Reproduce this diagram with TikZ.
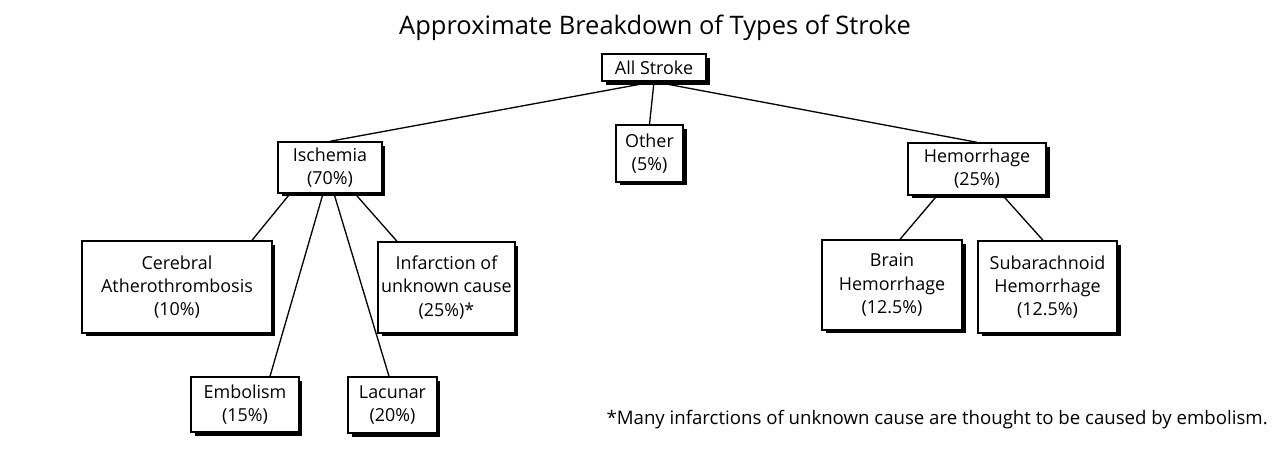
\documentclass[tikz,border=0pt]{standalone}
\usepackage{fontspec}
\setmainfont{Open Sans}
\usetikzlibrary{shadows, positioning}

\begin{document}
\begin{tikzpicture}[x=0.02cm, y=-0.02cm,
    box/.style={draw, line width=0.8pt, fill=white, inner sep=0pt, align=center,
      font=\fontsize{10.2}{13.2}\selectfont,
      drop shadow={shadow xshift=0.07cm, shadow yshift=-0.07cm, fill=black, opacity=1}},
    con/.style={line width=0.75pt},
    note/.style={inner sep=0pt, font=\fontsize{10.6}{12}\selectfont}
  ]
    \useasboundingbox (0,0) rectangle (1280,450);
    \node[inner sep=0pt, font=\fontsize{14.5}{16}\selectfont] (title) at (655,28) {Approximate Breakdown of Types of Stroke};
    \node[box, minimum width=2.08cm, minimum height=0.54cm] (all) at (654,67.5) {All Stroke};
    \node[box, minimum width=2.08cm, minimum height=1.02cm] (isch) at (330,167.5) {Ischemia\\ (70\%)};
    \node[box, minimum width=1.34cm, minimum height=1.14cm] (oth) at (649.5,153.5) {Other\\ (5\%)};
    \node[box, minimum width=2.76cm, minimum height=1.04cm] (hem) at (977,169) {Hemorrhage\\ (25\%)};
    \node[box, minimum width=3.80cm, minimum height=1.84cm] (cer) at (177,287) {Cerebral\\ Atherothrombosis\\ (10\%)};
    \node[box, minimum width=2.74cm, minimum height=1.82cm] (inf) at (446.5,287.5) {Infarction of\\ unknown cause\\ (25\%)*};
    \node[box, minimum width=2.16cm, minimum height=1.10cm] (emb) at (245,404.5) {Embolism\\ (15\%)};
    \node[box, minimum width=1.78cm, minimum height=1.12cm] (lac) at (392.5,405) {Lacunar\\ (20\%)};
    \node[box, minimum width=2.80cm, minimum height=1.80cm] (brn) at (892,285) {Brain\\ Hemorrhage\\ (12.5\%)};
    \node[box, minimum width=2.78cm, minimum height=1.84cm] (sub) at (1047.5,287) {Subarachnoid\\ Hemorrhage\\ (12.5\%)};
    \node[note, anchor=east] (fn) at (1268,420) {*Many infarctions of unknown cause are thought to be caused by embolism.};
    \draw[con] (all.south) -- (isch.north); \draw[con] (all.south) -- (oth.north);
    \draw[con] (all.south) -- (hem.north);
    \draw[con] ([xshift=-0.8cm]isch.south) -- ([xshift=1.5cm]cer.north);
    \draw[con] ([xshift=-0.14cm]isch.south) -- ([xshift=0.5cm]emb.north);
    \draw[con] ([xshift=0.08cm]isch.south) -- ([xshift=-0.07cm]lac.north);
    \draw[con] ([xshift=0.5cm]isch.south) -- ([xshift=-0.99cm]inf.north);
    \draw[con] ([xshift=-0.8cm]hem.south) -- ([xshift=0.16cm]brn.north);
    \draw[con] ([xshift=0.52cm]hem.south) -- ([xshift=-0.09cm]sub.north);
  \end{tikzpicture}
\end{document}
